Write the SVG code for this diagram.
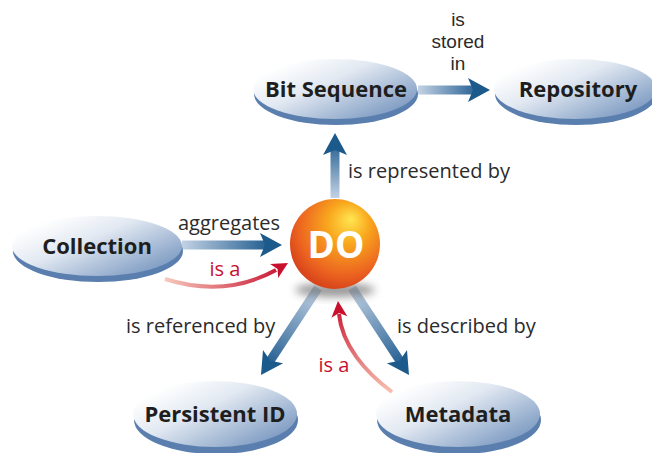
<svg xmlns="http://www.w3.org/2000/svg" width="652" height="453" viewBox="0 0 652 453">
<defs>
<linearGradient id="ell" x1="0.1" y1="0.2" x2="0.95" y2="0.9">
<stop offset="0" stop-color="#ffffff"/>
<stop offset="0.35" stop-color="#e2e9f2"/>
<stop offset="1" stop-color="#7393bd"/>
</linearGradient>
<radialGradient id="do" cx="0.6" cy="0.35" r="0.65" fx="0.68" fy="0.22">
<stop offset="0" stop-color="#ffe650"/>
<stop offset="0.35" stop-color="#f9a81e"/>
<stop offset="0.8" stop-color="#ec6420"/>
<stop offset="1" stop-color="#d9461b"/>
</radialGradient>
<filter id="blur" x="-50%" y="-50%" width="200%" height="200%"><feGaussianBlur stdDeviation="4"/></filter>
<linearGradient id="gAgg" gradientUnits="userSpaceOnUse" x1="182" y1="0" x2="270" y2="0"><stop offset="0" stop-color="#c3d2e4"/><stop offset="1" stop-color="#1f5b8f"/></linearGradient>
<linearGradient id="gSto" gradientUnits="userSpaceOnUse" x1="418" y1="0" x2="480" y2="0"><stop offset="0" stop-color="#c3d2e4"/><stop offset="1" stop-color="#1f5b8f"/></linearGradient>
<linearGradient id="gRep" gradientUnits="userSpaceOnUse" x1="0" y1="198" x2="0" y2="140"><stop offset="0" stop-color="#c3d2e4"/><stop offset="1" stop-color="#1f5b8f"/></linearGradient>
<linearGradient id="gRef" gradientUnits="userSpaceOnUse" x1="318" y1="288" x2="266" y2="366"><stop offset="0" stop-color="#c3d2e4"/><stop offset="1" stop-color="#1f5b8f"/></linearGradient>
<linearGradient id="gDes" gradientUnits="userSpaceOnUse" x1="352" y1="288" x2="404" y2="366"><stop offset="0" stop-color="#c3d2e4"/><stop offset="1" stop-color="#1f5b8f"/></linearGradient>
<linearGradient id="rCol" gradientUnits="userSpaceOnUse" x1="165" y1="0" x2="285" y2="0"><stop offset="0" stop-color="#f6c9bc"/><stop offset="1" stop-color="#c8102e"/></linearGradient>
<linearGradient id="rMet" gradientUnits="userSpaceOnUse" x1="0" y1="392" x2="0" y2="305"><stop offset="0" stop-color="#f6c0ae"/><stop offset="1" stop-color="#c8102e"/></linearGradient>
<path id="bhead" d="M0,0 L-22,-12 L-17,0 L-22,12 Z" fill="#1d5a8c"/>
<path id="rhead" d="M0,0 L-16,-8 L-12,0 L-16,8 Z" fill="#c8102e"/>
</defs>
<style>
.node{font-family:"Open Sans","Liberation Sans",sans-serif;font-weight:bold;font-size:22px;fill:#1e1e1e;text-anchor:middle}
.lbl{font-family:"Open Sans","Liberation Sans",sans-serif;font-size:20px;fill:#2b2b2b}
.stk{font-family:"Liberation Sans",Arial,sans-serif;font-size:19px;fill:#2b2b2b;text-anchor:middle}
.red{fill:#c8102e}
.rim{fill:#5a7fae}
.ell{fill:url(#ell)}
.ba{fill:none;stroke-width:9}
.ra{fill:none;stroke-width:4}
</style>

<g id="connectors">
<line class="ba" x1="182" y1="245" x2="266" y2="245" stroke="url(#gAgg)"/>
<use href="#bhead" transform="translate(282,245)"/>
<line class="ba" x1="418" y1="90" x2="474" y2="90" stroke="url(#gSto)"/>
<use href="#bhead" transform="translate(490,90)"/>
<line class="ba" x1="335" y1="198" x2="335" y2="150" stroke="url(#gRep)"/>
<use href="#bhead" transform="translate(335,133) rotate(-90)"/>
<line class="ba" x1="318" y1="288" x2="270" y2="361" stroke="url(#gRef)"/>
<use href="#bhead" transform="translate(261,375) rotate(123.2)"/>
<line class="ba" x1="352" y1="288" x2="400" y2="361" stroke="url(#gDes)"/>
<use href="#bhead" transform="translate(409,375) rotate(56.8)"/>
<path class="ra" d="M165,279 Q225,298 276,270" stroke="url(#rCol)"/>
<use href="#rhead" transform="translate(288,263) rotate(-30)"/>
<path class="ra" d="M392,392 C365,372 342,345 339,314" stroke="url(#rMet)"/>
<use href="#rhead" transform="translate(338,301) rotate(-95)"/>
<text class="stk" x="458" y="26">is</text>
<text class="stk" x="458" y="48">stored</text>
<text class="stk" x="458" y="70">in</text>
<text class="lbl" x="348" y="178">is represented by</text>
<text class="lbl" x="229" y="230" text-anchor="middle">aggregates</text>
<text class="lbl red" x="225" y="276" text-anchor="middle">is a</text>
<text class="lbl" x="126" y="333">is referenced by</text>
<text class="lbl" x="397" y="333">is described by</text>
<text class="lbl red" x="334" y="372" text-anchor="middle">is a</text>
</g>

<g id="bitsequence">
<ellipse class="rim" cx="336" cy="94" rx="82" ry="31"/>
<ellipse class="ell" cx="335" cy="89" rx="82" ry="30"/>
<text class="node" x="336" y="97">Bit Sequence</text>
</g>
<g id="repository">
<ellipse class="rim" cx="576" cy="94" rx="81" ry="31"/>
<ellipse class="ell" cx="575" cy="89" rx="81" ry="30"/>
<text class="node" x="578" y="97">Repository</text>
</g>
<g id="collection">
<ellipse class="rim" cx="98" cy="251" rx="85" ry="31"/>
<ellipse class="ell" cx="97" cy="246" rx="85" ry="30"/>
<text class="node" x="97" y="254">Collection</text>
</g>
<g id="do">
<ellipse cx="335" cy="290" rx="40" ry="7" fill="#555" opacity="0.6" filter="url(#blur)"/>
<circle cx="335" cy="244" r="45" fill="url(#do)"/>
<text x="336" y="258" font-family="'Open Sans','Liberation Sans',sans-serif" font-weight="bold" font-size="37" fill="#ffffff" text-anchor="middle">DO</text>
</g>
<g id="persistentid">
<ellipse class="rim" cx="216" cy="420" rx="82" ry="34"/>
<ellipse class="ell" cx="215" cy="414" rx="82" ry="33"/>
<text class="node" x="215" y="422">Persistent ID</text>
</g>
<g id="metadata">
<ellipse class="rim" cx="459" cy="420" rx="82" ry="34"/>
<ellipse class="ell" cx="458" cy="414" rx="82" ry="33"/>
<text class="node" x="458" y="422">Metadata</text>
</g>
</svg>
